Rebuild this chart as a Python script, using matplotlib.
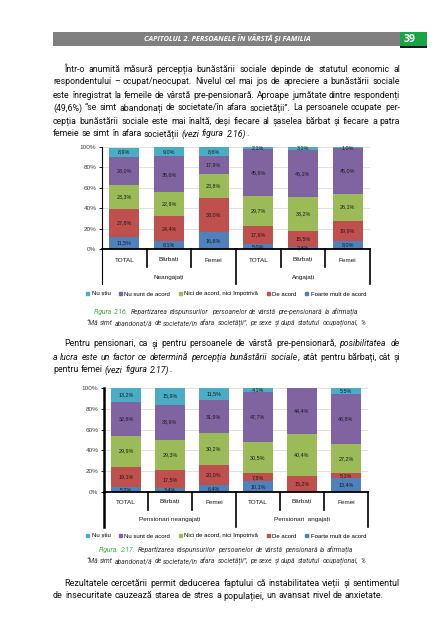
import numpy as np
import matplotlib.pyplot as plt
import matplotlib.transforms as mtransforms
from matplotlib.lines import Line2D
from matplotlib.patches import Rectangle
from matplotlib.font_manager import FontProperties

# --- data -------------------------------------------------------------
cats = ['TOTAL', 'Bărbați', 'Femei', 'TOTAL', 'Bărbați', 'Femei']
answers = ['Nu știu', 'Nu sunt de acord', 'Nici de acord, nici împotrivă',
           'De acord', 'Foarte mult de acord']
answer_colors = ['#4bacc6', '#8064a2', '#9bbb59', '#c0504d', '#4f81bd']

fig16_groups = ['Neangajați', 'Angajați']
fig16_nustiu = [8.9, 9.0, 8.6, 2.1, 3.1, 1.0]
fig16_nusunt = [28.0, 35.6, 17.9, 45.6, 46.1, 45.0]
fig16_nici = [23.3, 22.9, 23.8, 29.7, 33.2, 26.1]
fig16_deacord = [27.8, 24.4, 33.0, 17.6, 15.5, 19.9]
fig16_foarte = [11.5, 8.1, 16.6, 5.0, 2.4, 8.0]

fig17_groups = ['Pensionari neangajați', 'Pensionari  angajați']
fig17_nustiu = [13.2, 15.9, 11.5, 4.1, 0.0, 5.5]
fig17_nusunt = [32.6, 33.9, 31.9, 47.7, 44.4, 48.8]
fig17_nici = [29.9, 29.3, 30.2, 30.5, 40.4, 27.2]
fig17_deacord = [19.1, 17.5, 20.0, 7.8, 15.2, 5.1]
fig17_foarte = [5.2, 3.4, 6.4, 10.1, 0.0, 13.4]

# --- page setup ---------------------------------------------------------
W, H = 440, 640
fig = plt.figure(figsize=(4.4, 6.4), dpi=100)
renderer = fig.canvas.get_renderer()

BODY = ['Roboto', 'DejaVu Sans']
HEAD = ['Open Sans', 'DejaVu Sans']
NARROW = ['Liberation Sans Narrow', 'Liberation Sans', 'DejaVu Sans']
INK = '#111111'
GREEN = '#3fae49'


def fx(x):
    return x / W


def fy(y):
    return 1 - y / H


def text_w(s, size, italic=False, family=BODY):
    fp = FontProperties(family=family, size=size,
                        style='italic' if italic else 'normal')
    w, h, d = renderer.get_text_width_height_descent(s, fp, ismath=False)
    return w


def draw_line(x0, y, pieces, size, width=None, center=False, family=BODY):
    # pieces: (text, italic, color). Positions come from the layout of the
    # whole line, extra space is spread over the word gaps for justification.
    full = ''.join(p[0] for p in pieces)
    chunks = []   # (text, italic, color, char offset)
    pos = 0
    for txt, it, col in pieces:
        start = 0
        for part in txt.split(' '):
            if part:
                chunks.append((part, it, col, pos + start))
            start += len(part) + 1
        pos += len(txt)
    full_w = text_w(full.strip(), size, family=family)
    n_gaps = full.strip().count(' ')
    extra = 0.0
    if width is not None and n_gaps > 0:
        extra = (width - full_w) / n_gaps
    if center:
        x0 = x0 - full_w / 2
    lead = len(full) - len(full.lstrip())
    for txt, it, col, off in chunks:
        prefix = full[lead:off + len(txt)]
        start = text_w(prefix, size, family=family) - text_w(txt, size, family=family)
        gaps = full[lead:off].count(' ')
        fig.text(fx(x0 + start + gaps * extra), fy(y), txt,
                 fontstyle='italic' if it else 'normal', color=col,
                 va='center', ha='left', fontsize=size, family=family)


def fit_size(lines, left, right, indent, start=8.0):
    size = start
    while size > 4:
        ok = True
        for i, pieces in enumerate(lines[:-1]):
            full = ''.join(p[0] for p in pieces)
            x0 = left + (indent if i == 0 else 0)
            if text_w(full, size) > (right - x0) * 0.995:
                ok = False
                break
        if ok:
            return size
        size -= 0.05
    return size


def paragraph(lines, ys, left=53, right=400, indent=11):
    size = fit_size(lines, left, right, indent)
    for i, (pieces, y) in enumerate(zip(lines, ys)):
        x0 = left + (indent if i == 0 else 0)
        last = i == len(lines) - 1
        draw_line(x0, y, pieces, size, width=None if last else right - x0)


def n(t):
    return (t, False, INK)


def it(t):
    return (t, True, INK)


# header
fig.add_artist(Rectangle((fx(53), fy(46)), (400 - 53) / W, 14 / H,
                         transform=fig.transFigure, color='#808080', lw=0))
fig.add_artist(Rectangle((fx(400), fy(46)), 27 / W, 14 / H,
                         transform=fig.transFigure, color='#19a447', lw=0))
fig.add_artist(Rectangle((fx(400), fy(47.5)), 27 / W, 1.8 / H,
                         transform=fig.transFigure, color='#1a1a1a', lw=0))
fig.text(fx(227), fy(39), 'CAPITOLUL 2. PERSOANELE ÎN VÂRSTĂ ŞI FAMILIA',
         color='white', fontsize=5.3, fontweight='bold', fontstyle='italic',
         family=HEAD, ha='center', va='center')
fig.text(fx(404), fy(39.5), '39', color='white', fontsize=7.5,
         fontweight='bold', family=HEAD, ha='left', va='center')

# paragraph 1
p1 = [
    [n('Într-o anumită măsură percepția bunăstării sociale depinde de statutul economic al')],
    [n('respondentului – ocupat/neocupat. Nivelul cel mai jos de apreciere a bunăstării sociale')],
    [n('este înregistrat la femeile de vârstă pre-pensionară. Aproape jumătate dintre respondenți')],
    [n('(49,6%) “se simt abandonați de societate/în afara societății”. La persoanele ocupate per-')],
    [n('cepția bunăstării sociale este mai înaltă, deși fiecare al șaselea bărbat și fiecare a patra')],
    [n('femeie se simt în afara societății '), it('(vezi figura 2.16)'), n('.')],
]
paragraph(p1, [69, 82, 95, 108, 121, 134])


def fmt(v):
    return f'{v:.1f}%'.replace('.', ',')


def chart(box, groups, series, cat_y, group_y, tall_y, short_y, axis_lw):
    left, top, right, bottom = box
    ax = fig.add_axes([fx(left), fy(bottom), (right - left) / W, (bottom - top) / H])
    x = np.arange(len(cats))
    base = np.zeros(len(cats))
    # stack bottom to top: reverse legend order
    for vals, col in zip(series[::-1], answer_colors[::-1]):
        vals = np.array(vals)
        ax.bar(x, vals, 0.67, bottom=base, color=col, zorder=2)
        for xi, b, v in zip(x, base, vals):
            if v > 0:
                ax.text(xi, b + v / 2, fmt(v), ha='center', va='center',
                        fontsize=3.9, color='#1a1a1a', family=NARROW, zorder=3)
        base += vals
    ax.set_xlim(-0.5, len(cats) - 0.5)
    ax.set_ylim(0, 100)
    ax.set_yticks(range(0, 101, 20))
    ax.set_yticklabels([f'{v}%' for v in range(0, 101, 20)])
    ax.set_xticks([])
    ax.grid(axis='y', color='#dcdcdc', lw=0.6, zorder=0)
    for s in ['top', 'right', 'bottom']:
        ax.spines[s].set_visible(False)
    ax.spines['left'].set_linewidth(axis_lw)
    ax.tick_params(axis='y', length=2, width=0.6, labelsize=4.6,
                   labelcolor='#404040', pad=2)
    for lab in ax.get_yticklabels():
        lab.set_family(NARROW)

    tr = mtransforms.blended_transform_factory(ax.transData, fig.transFigure)
    fig.add_artist(Line2D([-0.5, len(cats) - 0.5], [fy(bottom)] * 2,
                          transform=tr, color='k', lw=1.3))
    for b in np.arange(-0.5, len(cats), 1.0):
        tall = b in (-0.5, 2.5, 5.5)
        lw = axis_lw if b == -0.5 else 1.2
        fig.add_artist(Line2D([b, b], [fy(bottom), fy(tall_y if tall else short_y)],
                              transform=tr, color='k', lw=lw))
    for xi, c in enumerate(cats):
        fig.text(xi, fy(cat_y), c, transform=tr, ha='center', va='center',
                 fontsize=4.6, color='#1a1a1a', family=NARROW)
    for xi, g in zip([1, 4], groups):
        fig.text(xi, fy(group_y), g, transform=tr, ha='center', va='center',
                 fontsize=4.6, color='#1a1a1a', family=NARROW)
    return ax


def legend(y):
    handles = [Rectangle((0, 0), 1, 1, color=c) for c in answer_colors]
    fig.legend(handles, answers, loc='center', bbox_to_anchor=(fx(226), fy(y)),
               ncol=5, frameon=False, prop={'family': NARROW, 'size': 4.3},
               handlelength=0.55, handleheight=0.55, handletextpad=0.4,
               columnspacing=1.4, borderpad=0)


def caption(y1, y2, label, rest, second):
    draw_line(226, y1, [(label, True, GREEN), (rest, True, '#333333')], 4.9,
              center=True)
    draw_line(226, y2, [(second, True, '#333333')], 4.9, center=True)


quote = '“Mă simt abandonat/ă de societate/în afara societății”, pe sexe și după statutul ocupațional, %'

chart((102, 147, 370, 249), fig16_groups,
      [fig16_nustiu, fig16_nusunt, fig16_nici, fig16_deacord, fig16_foarte],
      cat_y=260, group_y=277, tall_y=284, short_y=267, axis_lw=0.8)
legend(294)
caption(312, 323, 'Figura 2.16.',
        ' Repartizarea răspunsurilor persoanelor de vârstă pre-pensionară la afirmația',
        quote)

p2 = [
    [n('Pentru pensionari, ca și pentru persoanele de vârstă pre-pensionară, '),
     it('posibilitatea de')],
    [it('a lucra este un factor ce determină percepția bunăstării sociale'),
     n(', atât pentru bărbați, cât și')],
    [n('pentru femei '), it('(vezi figura 2.17)'), n('.')],
]
paragraph(p2, [344, 357, 370])

chart((104, 388, 368, 492), fig17_groups,
      [fig17_nustiu, fig17_nusunt, fig17_nici, fig17_deacord, fig17_foarte],
      cat_y=502, group_y=520, tall_y=527, short_y=510, axis_lw=1.8)
legend(536)
caption(550, 561, 'Figura. 2.17.',
        ' Repartizarea răspunsurilor persoanelor de vârstă pensionară la afirmația',
        quote)

p3 = [
    [n('Rezultatele cercetării permit deducerea faptului că instabilitatea vieții și sentimentul')],
    [n('de insecuritate cauzează starea de stres a populației, un avansat nivel de anxietate.')],
]
paragraph(p3, [583, 596])

fig.savefig('out.png', dpi=100, facecolor='white')
